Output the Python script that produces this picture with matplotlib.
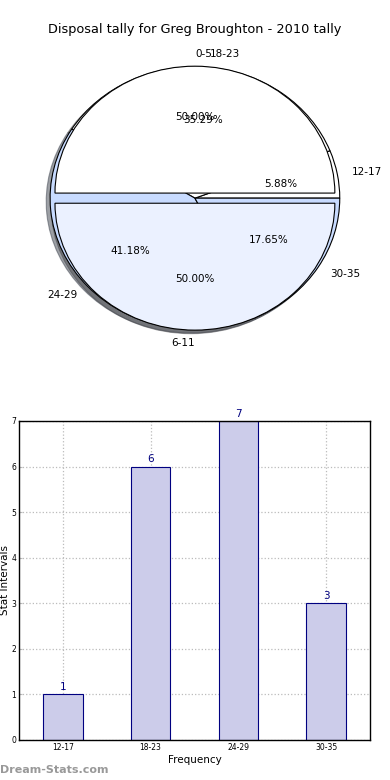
import matplotlib
matplotlib.use("Agg")
import matplotlib.pyplot as plt

# chart data
title = "Disposal tally for Greg Broughton - 2010 tally"
half_labels = ["0-5", "6-11"]
half_values = [1, 1]
interval_labels = ["12-17", "18-23", "24-29", "30-35"]
frequencies = [1, 6, 7, 3]

fig = plt.figure(figsize=(3.9, 7.8), dpi=100)

# pie part (drawn with unequal aspect, like the old renderer)
ax1 = fig.add_axes([0.0513, 0.5426, 0.897, 0.4067])
ax1.pie(frequencies, labels=interval_labels, autopct='%1.2f%%', radius=1.035,
        colors=['#ffffff', '#ffffff', '#c8dbff', '#c8dbff'], shadow=True,
        wedgeprops={'edgecolor': 'black', 'linewidth': 0.8},
        textprops={'fontsize': 7.5})
_, half_texts, _ = ax1.pie(half_values, labels=half_labels, autopct='%1.2f%%',
                           explode=(0.04, 0.04), colors=['#ffffff', '#ebf1ff'],
                           shadow=True,
                           wedgeprops={'edgecolor': 'black', 'linewidth': 0.8},
                           textprops={'fontsize': 7.5})
# old renderer put the top label to the right, the bottom one to the left
half_texts[0].set_ha('left')
half_texts[1].set_ha('right')
ax1.set_aspect('auto')
ax1.set_xlim(-1.25, 1.25)
ax1.set_ylim(-1.25, 1.25)
fig.text(0.5, 1 - 30 / 780, title, ha='center', va='center', fontsize=9.3)

# bar part
ax2 = fig.add_axes([0.0487, 0.0513, 0.9, 0.409])
xpos = list(range(len(frequencies)))
ax2.bar(xpos, frequencies, width=0.45, color='#ccccea',
        edgecolor='navy', linewidth=0.8, zorder=2)
for x, v in zip(xpos, frequencies):
    ax2.text(x, v + 0.05, str(v), ha='center', va='bottom', color='navy', fontsize=7.5)
ax2.set_xlim(-0.5, 3.5)
ax2.set_ylim(0, 7)
ax2.set_xticks(xpos)
ax2.set_xticklabels(interval_labels)
ax2.set_yticks(range(8))
ax2.tick_params(labelsize=5.5, length=2, direction='in', color='#bbbbbb', pad=2)
ax2.grid(True, linestyle=':', color='#bbbbbb', linewidth=0.9, zorder=0)
ax2.set_axisbelow(True)
ax2.set_xlabel('Frequency', fontsize=7.5, labelpad=2)
ax2.set_ylabel('Stat Intervals', fontsize=7.5, labelpad=1)
for s in ax2.spines.values():
    s.set_linewidth(1.0)

# watermark
fig.text(0.0, 1 - 770 / 780, "Dream-Stats.com", ha='left', va='center',
         color='#999999', fontsize=8, fontweight='bold')

fig.savefig('out.png', dpi=100)
